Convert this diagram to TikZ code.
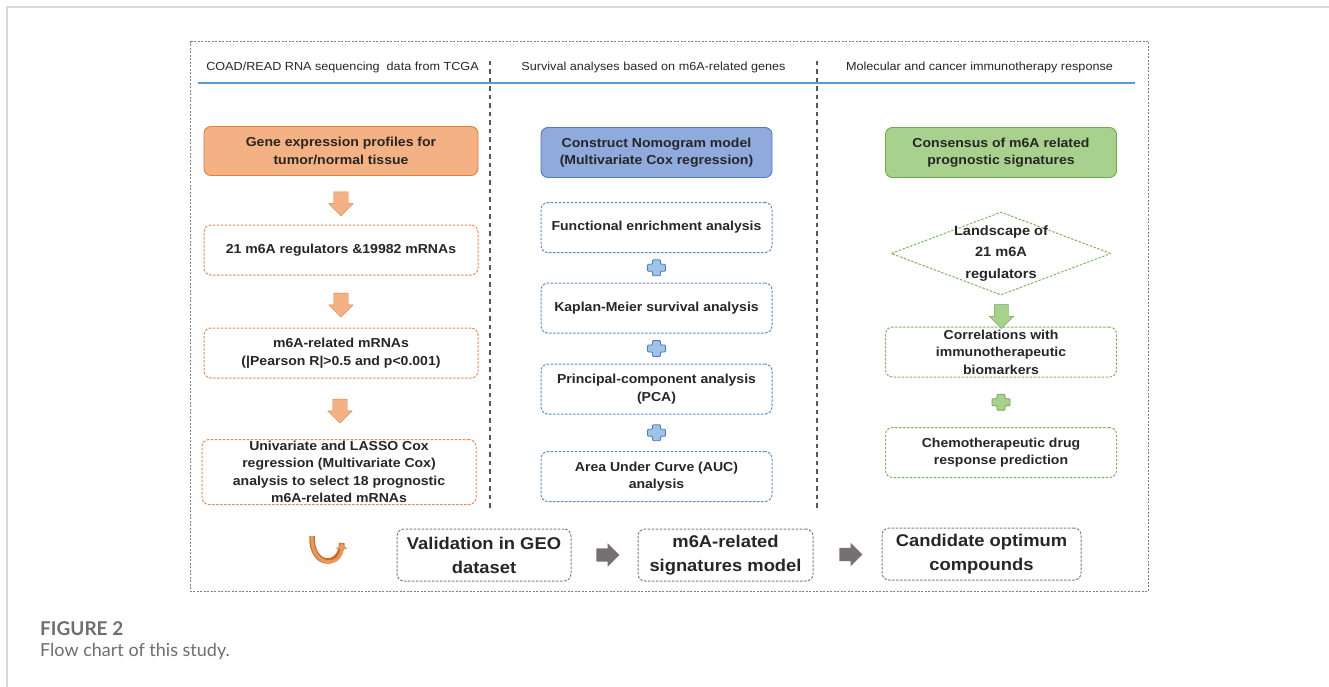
\documentclass[tikz,border=0pt]{standalone}
\usepackage{fontspec}
\setmainfont{Liberation Sans}[FakeStretch=1.08]
\newfontfamily\capfont{Lato}
\usetikzlibrary{arrows.meta,positioning,calc,shapes.geometric,shapes.arrows}

\definecolor{txt}{HTML}{262626}
\definecolor{orfill}{HTML}{F4B183}
\definecolor{orline}{HTML}{E0803F}
\definecolor{ordash}{HTML}{F0884A}
\definecolor{blfill}{HTML}{8FAADC}
\definecolor{blline}{HTML}{4F78C6}
\definecolor{bldash}{HTML}{5B8BDB}
\definecolor{plusbl}{HTML}{9DC3E6}
\definecolor{grfill}{HTML}{A9D18E}
\definecolor{grline}{HTML}{6FA84A}
\definecolor{grdash}{HTML}{7CB857}
\definecolor{arrgray}{HTML}{757171}
\definecolor{boxgray}{HTML}{7F7F7F}
\definecolor{sepgray}{HTML}{595959}
\definecolor{hdrline}{HTML}{5B9BD5}
\definecolor{pagegray}{HTML}{D9D9D9}
\definecolor{capgray}{HTML}{6E6E6E}
\definecolor{uturn}{HTML}{D2691E}
\definecolor{uturnfill}{HTML}{E69A62}

\tikzset{
  pics/plussign/.style 2 args={code={
    \filldraw[fill=#1,draw=#2,line width=0.8pt,rounded corners=1pt]
      (-4,-8)--(4,-8)--(4,-3.5)--(9,-3.5)--(9,3.5)--(4,3.5)--(4,8)--(-4,8)
      --(-4,3.5)--(-9,3.5)--(-9,-3.5)--(-4,-3.5)--cycle;}}
}

\begin{document}
\begin{tikzpicture}[x=1pt,y=-1pt,
  box/.style={draw,rounded corners=7pt,align=center,minimum width=231pt,
              minimum height=50pt,inner sep=1pt,text=txt,
              font=\fontsize{13}{17.5}\selectfont\bfseries},
  headbox/.style={box,line width=0.9pt},
  dbox/.style={box,line width=1pt,dash pattern=on 2.5pt off 1.5pt},
  orbox/.style={dbox,draw=ordash,minimum width=274pt},
  blbox/.style={dbox,draw=bldash},
  grbox/.style={dbox,draw=grdash},
  bigbox/.style={dbox,draw=boxgray,minimum height=52pt,
                 font=\fontsize{17}{24}\selectfont\bfseries},
  header/.style={text=txt,font=\fontsize{11.7}{14}\selectfont,inner sep=0pt},
  downarr/.style={single arrow,rotate=-90,inner sep=0pt,text height=7pt,text depth=7pt,
                  minimum height=24pt,minimum width=20pt,single arrow head extend=5pt},
  rightarr/.style={single arrow,fill=arrgray,inner sep=0pt,text height=6.5pt,
                   text depth=6.5pt,minimum height=23pt,minimum width=20pt,
                   single arrow head extend=5pt},
  sep/.style={sepgray,line width=1.1pt,dash pattern=on 4.5pt off 4pt}
]
\useasboundingbox (0,0) rectangle (1329,687);

% page edge and outer frame
\draw[pagegray,line width=1.2pt] (7,687) -- (7,7) -- (1329,7);
\draw[boxgray,line width=0.9pt,dash pattern=on 2pt off 1.5pt] (190,41) rectangle (1148,591);

% column headers
\node[header] (h1) at (342.5,67) {COAD/READ RNA sequencing\ \ data from TCGA};
\node[header] (h2) at (653.5,67) {Survival analyses based on m6A-related genes};
\node[header] (h3) at (979.5,67) {Molecular and cancer immunotherapy response};
\coordinate (hl) at (198,83);
\coordinate (hr) at (1135,83);
\draw[hdrline,line width=1.3pt] (hl) -- (hr);
\coordinate (s1t) at (490,61);
\coordinate (s1b) at (490,508);
\coordinate (s2t) at (817,61);
\coordinate (s2b) at (817,510);
\draw[sep] (s1t) -- (s1b);
\draw[sep] (s2t) -- (s2b);

% left column
\node[headbox,fill=orfill,draw=orline,minimum width=274pt,minimum height=49pt]
  (gep) at (341,151) {Gene expression profiles for\\tumor/normal tissue};
\node[orbox] (reg)  at (341,250) {21 m6A regulators \&19982 mRNAs};
\node[orbox] (rel)  at (341,353) {m6A-related mRNAs\\(|Pearson R|>0.5 and p<0.001)};
\node[orbox,minimum height=65pt] (cox) at (339,472)
  {Univariate and LASSO Cox\\regression (Multivariate Cox)\\analysis to select 18 prognostic\\m6A-related mRNAs};
\node[downarr,fill=orfill,draw=orline] (oa1) at ($(gep.south)!0.5!(reg.north)$) {};
\node[downarr,fill=orfill,draw=orline] (oa2) at ($(reg.south)!0.5!(rel.north)$) {};
\node[downarr,fill=orfill,draw=orline] (oa3) at ($(rel.south)!0.48!(cox.north)$) {};

% middle column
\node[headbox,fill=blfill,draw=blline] (nomo) at (656.5,152.5)
  {Construct Nomogram model\\(Multivariate Cox regression)};
\node[blbox] (fea) at (656.5,227.5) {Functional enrichment analysis};
\node[blbox] (km)  at (656.5,308)   {Kaplan-Meier survival analysis};
\node[blbox] (pca) at (656.5,389)   {Principal-component analysis\\(PCA)};
\node[blbox] (auc) at (656.5,476.5) {Area Under Curve (AUC)\\analysis};
\pic at ($(fea.south)!0.5!(km.north)$) {plussign={plusbl}{blline}};
\pic at ($(km.south)!0.5!(pca.north)$) {plussign={plusbl}{blline}};
\pic at ($(pca.south)!0.5!(auc.north)$) {plussign={plusbl}{blline}};

% right column
\node[headbox,fill=grfill,draw=grline] (cons) at (1001,152.5)
  {Consensus of m6A related\\prognostic signatures};
\node[diamond,draw=grdash,line width=1pt,dash pattern=on 2.5pt off 1.5pt,minimum width=220pt,
      minimum height=83pt,inner sep=0pt,
      label={[align=center,text=txt,font=\fontsize{13.5}{21.5}\selectfont\bfseries]center:Landscape of\\21 m6A\\regulators}]
  (land) at (1001,253.5) {};
\node[grbox] (corr) at (1001,352) {Correlations with\\immunotherapeutic\\biomarkers};
\node[grbox] (chem) at (1001,452.5) {Chemotherapeutic drug\\response prediction};
\node[downarr,fill=grfill,draw=grline] (ga1) at (1001.5,313) {};
\pic at ($(corr.south)!0.5!(chem.north)$) {plussign={grfill}{grline}};

% bottom row
\node[bigbox,minimum width=174pt] (geo) at (484,555) {Validation in GEO\\dataset};
\node[bigbox,minimum width=175pt] (sig) at (725.5,555) {m6A-related\\signatures model};
\node[bigbox,minimum width=199pt] (cand) at (981.5,554) {Candidate optimum\\compounds};
\node[rightarr] (ra1) at ($(geo.east)!0.5!(sig.west)$) {};
\node[rightarr] (ra2) at ($(sig.east)!0.5!(cand.west)$) {};
\coordinate (ul) at (312,536);
\coordinate (ur) at (342,543);
\draw[uturn,line width=5.5pt] (ul) .. controls (311,568) and (341,568) .. (ur);
\draw[uturnfill,line width=3.2pt,-{Triangle[width=11pt,length=6pt]}]
  (ul) .. controls (311,568) and (341,568) .. (ur);

% caption
\node[anchor=west,inner sep=0pt,text=capgray,font=\capfont\fontsize{19}{22}\selectfont\bfseries]
  (fig) at (40,629) {FIGURE 2};
\node[anchor=west,inner sep=0pt,text=capgray,font=\capfont\fontsize{18}{22}\selectfont]
  (cap) at (40,651) {Flow chart of this study.};
\end{tikzpicture}
\end{document}
